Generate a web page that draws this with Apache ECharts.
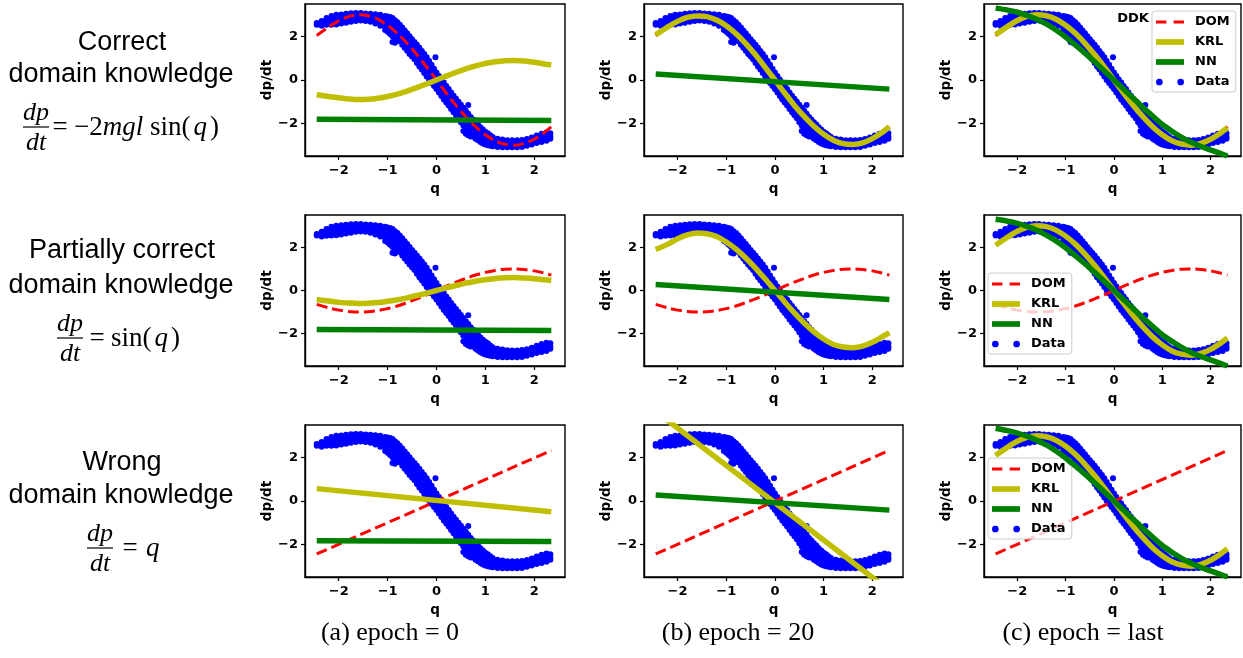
<!DOCTYPE html>
<html>
<head>
<meta charset="utf-8">
<title>Domain knowledge panels</title>
<script src="https://cdn.jsdelivr.net/npm/echarts@6.0.0/dist/echarts.min.js"></script>
<style>
html,body{margin:0;padding:0;background:#ffffff;}
#chart{width:1243px;height:658px;}
</style>
</head>
<body>
<div id="chart"></div>
<script>
// ---------------- data ----------------
const xTicks = [-2, -1, 0, 1, 2];
const yTicks = [-2, 0, 2];
const legendNames = ['DOM', 'KRL', 'NN', 'Data'];
const rowTitles = [['Correct', 'domain knowledge'], ['Partially correct', 'domain knowledge'], ['Wrong', 'domain knowledge']];
const captions = ['(a) epoch = 0', '(b) epoch = 20', '(c) epoch = last'];

// sample positions for the curves
const lineQ = [-2.45, -2.2, -2.0, -1.8, -1.6, -1.4, -1.2, -1.0, -0.8, -0.6, -0.4, -0.2, 0, 0.2, 0.4, 0.6, 0.8, 1.0, 1.2, 1.4, 1.6, 1.8, 2.0, 2.2, 2.35];
const lineEnds = [-2.45, 2.35];

// DOM curves (red dashed)
const domCorrect = [2.05, 2.45, 2.72, 2.92, 3.0, 2.96, 2.8, 2.52, 2.15, 1.69, 1.17, 0.6, 0, -0.6, -1.17, -1.69, -2.15, -2.52, -2.8, -2.96, -3.0, -2.92, -2.73, -2.43, -2.15];
const domPartial = [-0.64, -0.81, -0.91, -0.97, -1.0, -0.99, -0.93, -0.84, -0.72, -0.56, -0.39, -0.2, 0, 0.2, 0.39, 0.56, 0.72, 0.84, 0.93, 0.99, 1.0, 0.97, 0.91, 0.81, 0.71];
const domWrong = [-2.44, 2.33];               // on lineEnds

// KRL curves (yellow)
const krlEpoch0Correct = [-0.68, -0.76, -0.82, -0.87, -0.9, -0.89, -0.84, -0.76, -0.65, -0.51, -0.35, -0.18, 0, 0.18, 0.35, 0.51, 0.65, 0.76, 0.84, 0.89, 0.9, 0.88, 0.82, 0.74, 0.7];
const krlEpoch20Correct = [2.08, 2.45, 2.7, 2.88, 2.95, 2.92, 2.76, 2.5, 2.13, 1.68, 1.16, 0.58, 0, -0.6, -1.17, -1.68, -2.13, -2.5, -2.77, -2.93, -2.97, -2.9, -2.7, -2.42, -2.15];
const krlLastCorrect = [2.08, 2.47, 2.74, 2.93, 3.0, 2.96, 2.8, 2.52, 2.15, 1.69, 1.17, 0.6, 0, -0.6, -1.17, -1.69, -2.15, -2.52, -2.8, -2.95, -3.0, -2.92, -2.73, -2.45, -2.2];
const krlEpoch0Partial = [-0.42, -0.49, -0.55, -0.58, -0.6, -0.59, -0.56, -0.5, -0.43, -0.34, -0.23, -0.12, 0, 0.12, 0.23, 0.34, 0.43, 0.5, 0.56, 0.59, 0.6, 0.58, 0.55, 0.5, 0.46];
const krlEpoch20Partial = [1.9, 2.15, 2.4, 2.58, 2.66, 2.63, 2.5, 2.25, 1.92, 1.51, 1.04, 0.53, 0, -0.53, -1.04, -1.51, -1.92, -2.25, -2.5, -2.62, -2.65, -2.58, -2.4, -2.15, -1.95];
const krlLastPartial = [2.1, 2.48, 2.75, 2.93, 3.0, 2.96, 2.8, 2.52, 2.15, 1.69, 1.17, 0.6, 0, -0.6, -1.17, -1.69, -2.15, -2.52, -2.8, -2.95, -3.0, -2.92, -2.73, -2.45, -2.2];
const krlEpoch0Wrong = [0.57, -0.5];          // on lineEnds
const krlEpoch20Wrong = [4.13, -4.12];        // on lineEnds
const krlLastWrong = [2.1, 2.48, 2.75, 2.93, 3.0, 2.96, 2.8, 2.52, 2.15, 1.69, 1.17, 0.6, 0, -0.6, -1.17, -1.69, -2.15, -2.52, -2.8, -2.95, -3.0, -2.92, -2.73, -2.45, -2.2];

// NN curves (green)
const nnEpoch0Correct = [-1.81, -1.86];       // on lineEnds
const nnEpoch20Correct = [0.28, -0.42];       // on lineEnds
const nnLastCorrect = [3.31, 3.22, 3.12, 2.98, 2.8, 2.58, 2.3, 1.98, 1.62, 1.24, 0.84, 0.42, 0, -0.42, -0.84, -1.26, -1.66, -2.05, -2.36, -2.64, -2.87, -3.06, -3.22, -3.38, -3.5];
const nnEpoch0Partial = [-1.81, -1.86];
const nnEpoch20Partial = [0.28, -0.42];
const nnLastPartial = [3.3, 3.21, 3.11, 2.97, 2.79, 2.57, 2.3, 1.98, 1.62, 1.24, 0.84, 0.42, 0, -0.42, -0.84, -1.26, -1.66, -2.05, -2.36, -2.64, -2.87, -3.06, -3.22, -3.38, -3.5];
const nnEpoch0Wrong = [-1.83, -1.86];
const nnEpoch20Wrong = [0.28, -0.42];
const nnLastWrong = [3.35, 3.24, 3.13, 2.99, 2.8, 2.58, 2.3, 1.98, 1.62, 1.24, 0.84, 0.42, 0, -0.42, -0.84, -1.26, -1.66, -2.05, -2.36, -2.64, -2.87, -3.06, -3.22, -3.38, -3.5];

// Measured data (blue dots): each row = [q, dp/dt values seen at that q]
const dataColumns = [
  [-2.45, 2.62, 2.55],
  [-2.35, 2.72, 2.6, 2.5],
  [-2.25, 2.85, 2.7, 2.54],
  [-2.15, 2.95, 2.8, 2.64, 2.55],
  [-2.05, 3.0, 2.84, 2.68, 2.56],
  [-1.95, 3.02, 2.86, 2.72, 2.6],
  [-1.85, 3.05, 2.9, 2.75, 2.64],
  [-1.75, 3.07, 2.92, 2.78, 2.68],
  [-1.65, 3.08, 2.93, 2.8, 2.72],
  [-1.55, 3.08, 2.94, 2.82, 2.74],
  [-1.45, 3.06, 2.92, 2.8, 2.72],
  [-1.35, 3.05, 2.9, 2.77, 2.68],
  [-1.25, 3.03, 2.88, 2.72, 2.6],
  [-1.15, 3.0, 2.85, 2.68, 2.5],
  [-1.05, 2.95, 2.8, 2.62, 2.45, 2.3],
  [-1.0, 2.92, 2.75, 2.57, 2.4, 2.22],
  [-0.95, 2.9, 2.72, 2.52, 2.32, 2.12],
  [-0.9, 2.85, 2.65, 2.45, 2.25, 2.02, 1.75],
  [-0.85, 2.75, 2.55, 2.35, 2.12, 1.9, 1.72],
  [-0.8, 2.66, 2.46, 2.26, 2.05, 1.85],
  [-0.75, 2.55, 2.35, 2.15, 1.95, 1.78],
  [-0.7, 2.42, 2.22, 2.02, 1.82, 1.62],
  [-0.65, 2.28, 2.08, 1.88, 1.68, 1.48],
  [-0.6, 2.15, 1.95, 1.75, 1.55, 1.35],
  [-0.55, 2.02, 1.82, 1.62, 1.42, 1.2],
  [-0.5, 1.88, 1.68, 1.48, 1.28, 1.08],
  [-0.45, 1.75, 1.55, 1.35, 1.15, 0.95],
  [-0.4, 1.62, 1.42, 1.22, 1.0, 0.78],
  [-0.35, 1.48, 1.28, 1.08, 0.85, 0.62],
  [-0.3, 1.34, 1.13, 0.92, 0.7, 0.48],
  [-0.25, 1.2, 0.98, 0.76, 0.54, 0.32],
  [-0.2, 1.05, 0.83, 0.61, 0.39, 0.16],
  [-0.15, 0.88, 0.66, 0.45, 0.22, 0.0],
  [-0.1, 0.7, 0.49, 0.28, 0.06, -0.14],
  [-0.05, 0.52, 0.32, 0.12, -0.1, -0.28],
  [-0.02, 1.05],
  [0.0, 0.35, 0.15, -0.05, -0.25, -0.42],
  [0.05, 0.18, -0.02, -0.22, -0.4, -0.58],
  [0.1, 0.02, -0.18, -0.38, -0.56, -0.74],
  [0.15, -0.12, -0.32, -0.52, -0.72, -0.9],
  [0.2, -0.28, -0.48, -0.68, -0.86, -1.04],
  [0.25, -0.42, -0.62, -0.82, -1.0, -1.18],
  [0.3, -0.58, -0.78, -0.98, -1.16, -1.34],
  [0.35, -0.72, -0.92, -1.12, -1.3, -1.48],
  [0.4, -0.86, -1.06, -1.26, -1.44, -1.62],
  [0.45, -1.0, -1.2, -1.4, -1.58, -1.76],
  [0.5, -1.14, -1.34, -1.54, -1.74, -1.94],
  [0.55, -1.28, -1.48, -1.68, -1.88, -2.1, -2.35],
  [0.6, -1.42, -1.62, -1.82, -2.02, -2.25, -2.48],
  [0.65, -1.15, -1.55, -1.75, -1.95, -2.15, -2.35, -2.55],
  [0.7, -1.7, -1.9, -2.1, -2.3, -2.5, -2.6],
  [0.75, -1.82, -2.02, -2.22, -2.42, -2.6],
  [0.8, -1.95, -2.15, -2.35, -2.55, -2.7],
  [0.85, -2.05, -2.25, -2.45, -2.62, -2.78],
  [0.9, -2.18, -2.36, -2.54, -2.7, -2.86],
  [0.95, -2.28, -2.45, -2.62, -2.78, -2.92],
  [1.0, -2.38, -2.54, -2.7, -2.85, -2.97],
  [1.05, -2.45, -2.6, -2.75, -2.9, -3.0],
  [1.1, -2.55, -2.7, -2.85, -2.98, -3.03],
  [1.15, -2.63, -2.78, -2.92, -3.05],
  [1.25, -2.7, -2.84, -2.98, -3.08],
  [1.35, -2.74, -2.88, -3.0, -3.1],
  [1.45, -2.77, -2.9, -3.02, -3.1],
  [1.55, -2.78, -2.92, -3.03, -3.1],
  [1.65, -2.78, -2.92, -3.02, -3.1],
  [1.75, -2.76, -2.9, -3.0, -3.08],
  [1.85, -2.72, -2.85, -2.96, -3.03],
  [1.95, -2.65, -2.78, -2.9, -2.97],
  [2.05, -2.56, -2.7, -2.82, -2.9],
  [2.15, -2.48, -2.62, -2.75, -2.85],
  [2.25, -2.42, -2.56, -2.7, -2.8],
  [2.33, -2.45, -2.6, -2.7]
];

// ---------------- layout / style ----------------
const gridLeft = [305, 644, 984];
const gridWidth = [260, 259, 257];
const gridTop = [4, 215, 425];
const gridHeight = [152, 151, 152];
const X_MIN = -2.69, X_MAX = 2.63, Y_MIN = -3.5, Y_MAX = 3.5;
const RED = '#ff0000', YEL = '#bfbf00', GRN = '#008000', BLUE = '#0000ff';

const dataPoints = [];
dataColumns.forEach(row => { for (let i = 1; i < row.length; i++) dataPoints.push([row[0], row[i]]); });
const pairs = (xs, ys) => xs.map((x, i) => [x, ys[i]]);

const panels = [
  [[lineQ, domCorrect], [lineQ, krlEpoch0Correct], [lineEnds, nnEpoch0Correct]],
  [[lineQ, domCorrect], [lineQ, krlEpoch20Correct], [lineEnds, nnEpoch20Correct]],
  [[lineQ, domCorrect], [lineQ, krlLastCorrect], [lineQ, nnLastCorrect]],
  [[lineQ, domPartial], [lineQ, krlEpoch0Partial], [lineEnds, nnEpoch0Partial]],
  [[lineQ, domPartial], [lineQ, krlEpoch20Partial], [lineEnds, nnEpoch20Partial]],
  [[lineQ, domPartial], [lineQ, krlLastPartial], [lineQ, nnLastPartial]],
  [[lineEnds, domWrong], [lineEnds, krlEpoch0Wrong], [lineEnds, nnEpoch0Wrong]],
  [[lineEnds, domWrong], [lineEnds, krlEpoch20Wrong], [lineEnds, nnEpoch20Wrong]],
  [[lineEnds, domWrong], [lineQ, krlLastWrong], [lineQ, nnLastWrong]]
];

const fmt = v => (v < 0 ? '\u2212' + Math.abs(v) : String(v));
const tickFont = {fontFamily: 'DejaVu Sans', fontWeight: 'bold', fontSize: 13, color: '#000'};
const nameFont = {fontFamily: 'DejaVu Sans', fontWeight: 'bold', fontSize: 13.5, color: '#000'};

const grids = [], xAxes = [], yAxes = [], series = [];
for (let r = 0; r < 3; r++) {
  for (let c = 0; c < 3; c++) {
    const idx = r * 3 + c;
    grids.push({left: gridLeft[c], top: gridTop[r], width: gridWidth[c], height: gridHeight[r],
      show: true, borderColor: '#000', borderWidth: 1.4, backgroundColor: 'transparent',
      containLabel: false, outerBoundsMode: 'none'});
    xAxes.push({type: 'value', gridIndex: idx, min: X_MIN, max: X_MAX,
      name: 'q', nameLocation: 'middle', nameGap: 26, nameTextStyle: nameFont,
      axisLine: {show: true, onZero: false, lineStyle: {color: '#000', width: 1.4}},
      axisTick: {show: true, inside: false, length: 4, customValues: xTicks, lineStyle: {color: '#000', width: 1.2}},
      axisLabel: Object.assign({show: true, margin: 8, customValues: xTicks, formatter: fmt}, tickFont),
      splitLine: {show: false}, minorTick: {show: false}});
    yAxes.push({type: 'value', gridIndex: idx, min: Y_MIN, max: Y_MAX,
      name: 'dp/dt', nameLocation: 'middle', nameGap: 31, nameRotate: 90, nameTextStyle: nameFont,
      axisLine: {show: true, onZero: false, lineStyle: {color: '#000', width: 1.4}},
      axisTick: {show: true, inside: false, length: 4, customValues: yTicks, lineStyle: {color: '#000', width: 1.2}},
      axisLabel: Object.assign({show: true, margin: 7, customValues: yTicks, formatter: fmt}, tickFont),
      splitLine: {show: false}});
    const p = panels[idx];
    series.push({type: 'scatter', name: 'Data', xAxisIndex: idx, yAxisIndex: idx, data: dataPoints,
      symbol: 'circle', symbolSize: 6, itemStyle: {color: BLUE, opacity: 1}, z: 1, silent: true});
    series.push({type: 'line', name: 'DOM', xAxisIndex: idx, yAxisIndex: idx, data: pairs(p[0][0], p[0][1]),
      symbol: 'none', showSymbol: false, smooth: 0.3, clip: true, color: RED, itemStyle: {color: RED},
      lineStyle: {color: RED, width: 3, type: [11, 5]}, z: 2, silent: true});
    series.push({type: 'line', name: 'KRL', xAxisIndex: idx, yAxisIndex: idx, data: pairs(p[1][0], p[1][1]),
      symbol: 'none', showSymbol: false, smooth: 0.3, clip: true, color: YEL, itemStyle: {color: YEL},
      lineStyle: {color: YEL, width: 5.5, cap: 'butt'}, z: 3, silent: true});
    series.push({type: 'line', name: 'NN', xAxisIndex: idx, yAxisIndex: idx, data: pairs(p[2][0], p[2][1]),
      symbol: 'none', showSymbol: false, smooth: 0.3, clip: true, color: GRN, itemStyle: {color: GRN},
      lineStyle: {color: GRN, width: 5.5, cap: 'butt'}, z: 4, silent: true});
  }
}

const ICONS = {
  DOM: 'path://M0,0H10V3H0Z M17,0H27V3H17Z',
  KRL: 'path://M0,0H27V5.5H0Z',
  NN: 'path://M0,0H27V5.5H0Z',
  Data: 'path://M1,3A3,3 0 1,0 7,3A3,3 0 1,0 1,3Z M20,3A3,3 0 1,0 26,3A3,3 0 1,0 20,3Z'
};
function makeLegend(left, top) {
  return {orient: 'vertical', left: left, top: top, padding: [4, 6, 3, 4], itemGap: 6,
    itemWidth: 28, itemHeight: 8, selectedMode: false,
    backgroundColor: 'rgba(255,255,255,0.8)', borderColor: '#cccccc', borderWidth: 1, borderRadius: 3,
    itemStyle: {borderWidth: 0},
    textStyle: {fontFamily: 'DejaVu Sans', fontWeight: 'bold', fontSize: 13, color: '#000', lineHeight: 14, padding: [0, 0, 0, 6]},
    data: legendNames.map(n => ({name: n, icon: ICONS[n]}))};
}
const legendPos = [[1152, 11], [988, 273], [988, 458]];

// --------------- text (titles, formulas, captions) ---------------
function txt(x, y, s, st) {
  return {type: 'text', x: x, y: y, silent: true,
    style: Object.assign({text: s, fill: '#000', align: 'center', verticalAlign: 'middle'}, st)};
}
const TITLE = {fontFamily: 'Liberation Sans', fontSize: 27};
const MATH_RICH = {
  r: {fontFamily: 'Liberation Serif', fontSize: 27},
  i: {fontFamily: 'Liberation Serif', fontSize: 27, fontStyle: 'italic'},
  q: {fontFamily: 'Liberation Serif', fontSize: 27, fontStyle: 'italic', padding: [0, 3, 0, 3]}
};
function mathLeft(x, y, s) {
  return {type: 'text', x: x, y: y, silent: true,
    style: {text: s, rich: MATH_RICH, fill: '#000', align: 'left', verticalAlign: 'middle',
      fontFamily: 'Liberation Serif', fontSize: 27}};
}
const MI = {fontFamily: 'Liberation Serif', fontSize: 26, fontStyle: 'italic'};
const M = {fontFamily: 'Liberation Serif', fontSize: 27};
const CAP = {fontFamily: 'Liberation Serif', fontSize: 26};
function fraction(cx, barY, halfW) {
  return [txt(cx, barY - 14, 'dp', MI),
    {type: 'line', silent: true, shape: {x1: cx - halfW, y1: barY, x2: cx + halfW, y2: barY}, style: {stroke: '#000', lineWidth: 1.2}},
    txt(cx, barY + 16, 'dt', MI)];
}
const graphics = [];
const titleY = [[43, 75], [251, 286], [463, 496]];
rowTitles.forEach((t, r) => { graphics.push(txt(122, titleY[r][0], t[0], TITLE)); graphics.push(txt(121, titleY[r][1], t[1], TITLE)); });
// row 1:  dp/dt = -2 m g l sin(q)
graphics.push(...fraction(36, 127, 13));
graphics.push(txt(60, 128, '=', M));
graphics.push(mathLeft(74, 128, '{r|\u22122}{i|mgl}{r| sin(}{q|q}{r|)}'));
// row 2:  dp/dt = sin(q)
graphics.push(...fraction(70, 338, 13));
graphics.push(txt(97, 339, '=', M));
graphics.push(mathLeft(111, 339, '{r|sin(}{q|q}{r|)}'));
// row 3:  dp/dt = q
graphics.push(...fraction(100, 548, 13));
graphics.push(txt(130, 549, '=', M));
graphics.push(mathLeft(146, 549, '{i|q}'));
// captions
[390, 738, 1083].forEach((x, i) => graphics.push(txt(x, 633, captions[i], CAP)));
graphics.push(txt(1133, 19, 'DDK', {fontFamily: 'DejaVu Sans', fontWeight: 'bold', fontSize: 13}));

const chart = echarts.init(document.getElementById('chart'), null, {renderer: 'canvas', width: 1243, height: 658});
chart.setOption({
  animation: false,
  backgroundColor: '#ffffff',
  grid: grids, xAxis: xAxes, yAxis: yAxes, series: series,
  legend: legendPos.map(p => makeLegend(p[0], p[1])),
  graphic: graphics
});
</script>
</body>
</html>
